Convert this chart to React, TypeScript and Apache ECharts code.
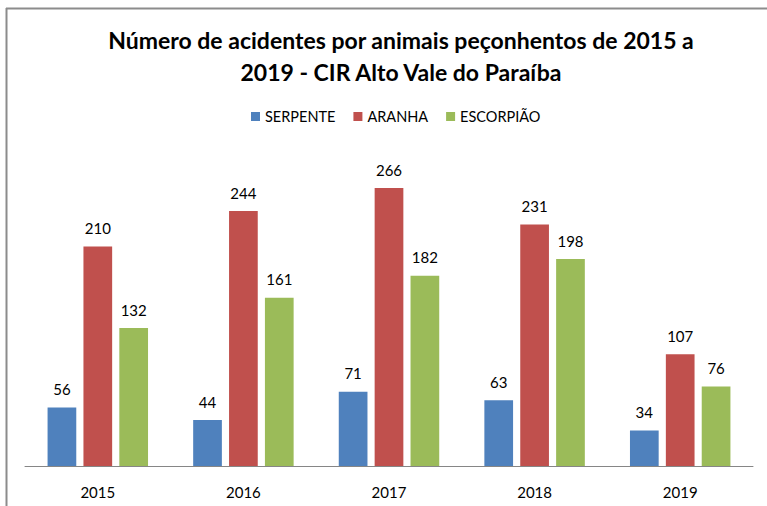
import React, { useEffect, useRef } from "react";
import * as echarts from "echarts";

const categories = ["2015", "2016", "2017", "2018", "2019"];
const serpente = [56, 44, 71, 63, 34];
const aranha = [210, 244, 266, 231, 107];
const escorpiao = [132, 161, 182, 198, 76];
const seriesNames = ["SERPENTE", "ARANHA", "ESCORPIÃO"];
const colors = ["#4F81BD", "#C0504D", "#9BBB59"];
const titleText = "Número de acidentes por animais peçonhentos de 2015 a\n2019 - CIR Alto Vale do Paraíba";

const FONT = "Lato, 'Open Sans', sans-serif";

export default function App() {
  const ref = useRef<HTMLDivElement>(null);
  useEffect(() => {
    if (!ref.current) return;
    const chart = echarts.init(ref.current, undefined, { renderer: "svg" });
    const data = [serpente, aranha, escorpiao];
    chart.setOption({
      animation: false,
      backgroundColor: "#ffffff",
      title: {
        text: titleText,
        left: 396,
        textAlign: "center",
        top: 19,
        textStyle: {
          fontFamily: FONT,
          fontSize: 23,
          fontWeight: "bold",
          color: "#000000",
          lineHeight: 32,
        },
      },
      legend: {
        top: 104,
        left: 246,
        itemWidth: 9,
        itemHeight: 9,
        itemGap: 18,
        icon: "rect",
        textStyle: { fontFamily: FONT, fontSize: 14.5, color: "#000000" },
        data: seriesNames,
      },
      grid: { left: 25, right: 14, top: 152.5, bottom: 40, containLabel: false },
      xAxis: {
        type: "category",
        data: categories,
        axisLine: { lineStyle: { color: "#868686", width: 1 } },
        axisTick: { show: false },
        axisLabel: { fontFamily: FONT, fontSize: 15, color: "#000000", margin: 18 },
      },
      yAxis: {
        type: "value",
        min: 0,
        max: 300,
        show: false,
        splitLine: { show: false },
      },
      graphic: [
        { type: "line", shape: { x1: 6, y1: 8.5, x2: 767, y2: 8.5 }, style: { stroke: "#8c8c8c", lineWidth: 2 } },
        { type: "line", shape: { x1: 6.5, y1: 8, x2: 6.5, y2: 506 }, style: { stroke: "#8c8c8c", lineWidth: 2 } },
      ],
      series: seriesNames.map((name, i) => ({
        name,
        type: "bar",
        data: data[i],
        barGap: "25%",
        barCategoryGap: "31%",
        itemStyle: { color: colors[i] },
        label: {
          show: true,
          position: "top",
          distance: 11,
          fontFamily: FONT,
          fontSize: 15,
          color: "#000000",
        },
      })),
    });
    return () => chart.dispose();
  }, []);
  return (
    <div
      ref={ref}
      style={{ position: "fixed", left: 0, top: 0, width: 767, height: 506 }}
    />
  );
}
